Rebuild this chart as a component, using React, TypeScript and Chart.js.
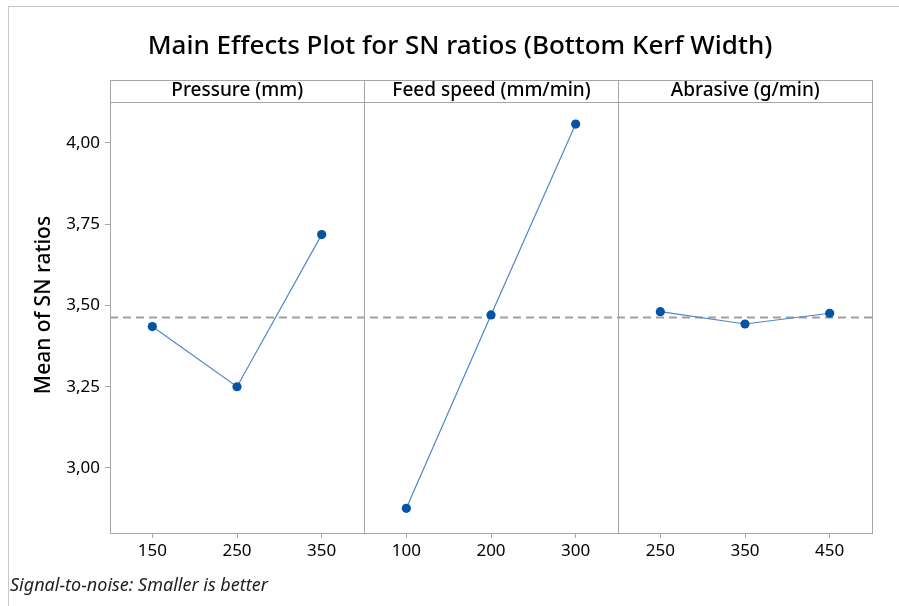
import React, { useEffect, useRef } from "react";
import { Chart, registerables } from "chart.js";

Chart.register(...registerables);

const chartTitle = "Main Effects Plot for SN ratios (Bottom Kerf Width)";
const yAxisTitle = "Mean of SN ratios";
const footnote = "Signal-to-noise: Smaller is better";
const factorNames = ["Pressure (mm)", "Feed speed (mm/min)", "Abrasive (g/min)"];
const pressureLevels = ["150", "250", "350"];
const feedLevels = ["100", "200", "300"];
const abrasiveLevels = ["250", "350", "450"];
const pressureMeans = [3.435, 3.25, 3.718];
const feedMeans = [2.876, 3.471, 4.058];
const abrasiveMeans = [3.481, 3.443, 3.476];
const grandMean = 3.466;
const yTicks = [3.0, 3.25, 3.5, 3.75, 4.0];
const yMin = 2.8;
const yMax = 4.126;

const FONT = "'Noto Sans', 'Open Sans', sans-serif";
const FRAME = "#a6a6a6";
const LINE = "#4f86cc";
const POINT = "#0553a5";

export default function App() {
  const ref = useRef<HTMLCanvasElement | null>(null);

  useEffect(() => {
    document.body.style.margin = "0";
    const canvas = ref.current;
    if (!canvas) return;

    const groups = [pressureMeans, feedMeans, abrasiveMeans];
    const labels = [...pressureLevels, ...feedLevels, ...abrasiveLevels];
    const datasets = groups.map((vals, g) => {
      const data: (number | null)[] = labels.map(() => null);
      vals.forEach((v, i) => {
        data[g * 3 + i] = v;
      });
      return {
        label: factorNames[g],
        data,
        borderColor: LINE,
        borderWidth: 1.2,
        pointBackgroundColor: POINT,
        pointBorderColor: POINT,
        pointRadius: 4.6,
        pointBorderWidth: 0,
        spanGaps: false,
        tension: 0,
      };
    });

    const decor = {
      id: "decor",
      beforeDatasetsDraw(chart: any) {
        const ctx = chart.ctx;
        const { left, right } = chart.chartArea;
        const y = chart.scales.y.getPixelForValue(grandMean);
        ctx.save();
        ctx.strokeStyle = "#a0a0a0";
        ctx.lineWidth = 2;
        ctx.setLineDash([8, 5]);
        ctx.beginPath();
        ctx.moveTo(left, Math.round(y) + 0.5);
        ctx.lineTo(right, Math.round(y) + 0.5);
        ctx.stroke();
        ctx.restore();
      },
      afterDraw(chart: any) {
        const ctx = chart.ctx;
        const { left, right, top, bottom } = chart.chartArea;
        const xs = chart.scales.x;
        ctx.save();
        // outer border
        ctx.strokeStyle = "#c8c8c8";
        ctx.lineWidth = 1;
        ctx.strokeRect(8.5, 6.5, 2000, 2000);
        // frame
        ctx.strokeStyle = FRAME;
        ctx.strokeRect(Math.round(left) + 0.5, Math.round(top) + 0.5, Math.round(right - left), Math.round(bottom - top));
        // header box
        const hTop = top - 22;
        ctx.strokeRect(Math.round(left) + 0.5, Math.round(hTop) + 0.5, Math.round(right - left), 22);
        const divs = [2.5, 5.5].map((v) => Math.round(xs.getPixelForValue(v)) + 0.5);
        divs.forEach((x) => {
          ctx.beginPath();
          ctx.moveTo(x, hTop);
          ctx.lineTo(x, bottom);
          ctx.stroke();
        });
        const edges = [left, ...divs, right];
        ctx.fillStyle = "#000";
        ctx.font = `500 19px ${FONT}`;
        ctx.textAlign = "center";
        ctx.textBaseline = "middle";
        factorNames.forEach((n, i) => {
          ctx.fillText(n, (edges[i] + edges[i + 1]) / 2, hTop + 11);
        });
        // title
        ctx.font = `500 26px ${FONT}`;
        ctx.fillText(chartTitle, 460, 47);
        // y title
        ctx.save();
        ctx.translate(44, 305);
        ctx.rotate(-Math.PI / 2);
        ctx.font = `500 21px ${FONT}`;
        ctx.fillText(yAxisTitle, 0, 0);
        ctx.restore();
        // footnote
        ctx.font = `italic 18px ${FONT}`;
        ctx.textAlign = "left";
        ctx.fillStyle = "#222";
        ctx.fillText(footnote, 10, 586);
        ctx.restore();
      },
    };

    const chart = new Chart(canvas, {
      type: "line",
      data: { labels, datasets: datasets as any },
      options: {
        responsive: false,
        animation: false,
        layout: { padding: { top: 102, right: 27, left: 0, bottom: 0 } },
        plugins: { legend: { display: false }, tooltip: { enabled: false }, title: { display: false } },
        scales: {
          x: {
            type: "category",
            offset: true,
            grid: { display: true, drawOnChartArea: false, drawTicks: true, tickLength: 5, color: FRAME, offset: false },
            border: { display: false },
            ticks: { color: "#000", font: { family: FONT, size: 17 }, padding: 3, autoSkip: false, maxRotation: 0 },
            afterFit: (s: any) => {
              s.height = 73;
            },
          },
          y: {
            type: "linear",
            min: yMin,
            max: yMax,
            grid: { display: true, drawOnChartArea: false, drawTicks: true, tickLength: 5, color: FRAME },
            border: { display: false },
            afterBuildTicks: (s: any) => {
              s.ticks = yTicks.map((v) => ({ value: v }));
            },
            ticks: {
              color: "#000",
              font: { family: FONT, size: 17 },
              padding: 5,
              callback: (v: any) => Number(v).toFixed(2).replace(".", ","),
            },
            afterFit: (s: any) => {
              s.width = 110;
            },
          },
        },
      },
      plugins: [decor],
    });
    return () => chart.destroy();
  }, []);

  return (
    <div style={{ width: 899, height: 606, background: "#fff" }}>
      <canvas ref={ref} width={899} height={606} style={{ display: "block" }} />
    </div>
  );
}
